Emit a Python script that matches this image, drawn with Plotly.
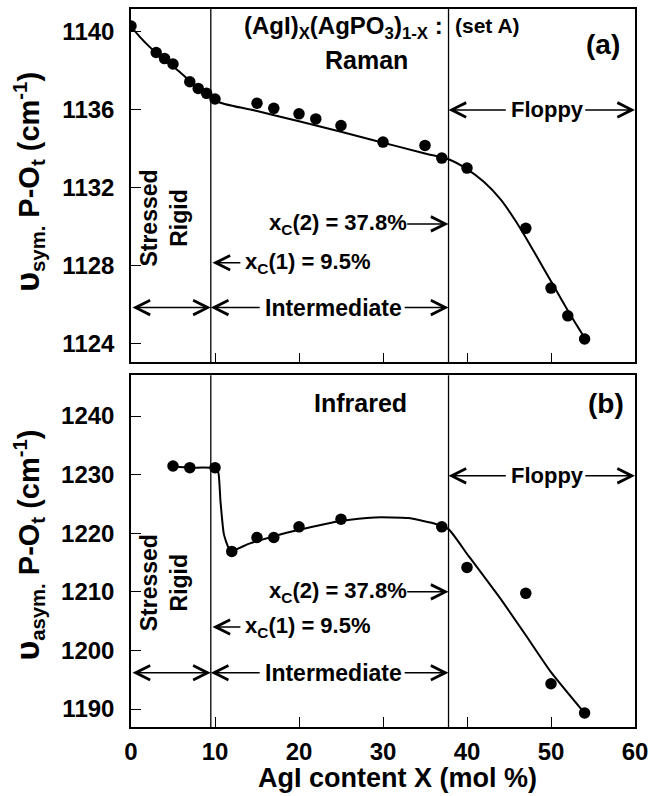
import plotly.graph_objects as go

# ---------------- data ----------------
# (a) Raman, symmetric P-Ot stretch
x_raman = [0, 3, 4, 5, 7, 8, 9, 10, 15, 17, 20, 22, 25, 30, 35, 37, 40, 47, 50, 52, 54]
y_raman = [1140.28, 1138.92, 1138.61, 1138.33, 1137.42, 1137.08, 1136.83, 1136.54,
           1136.32, 1136.06, 1135.78, 1135.52, 1135.18, 1134.33, 1134.16, 1133.51,
           1133.00, 1129.91, 1126.85, 1125.43, 1124.24]
fit_raman_x = [0, 1, 2, 3, 4, 5, 6, 7, 8, 9, 10, 15, 20, 25, 30, 35, 37.8,
               40, 42, 44, 46, 48, 50, 52, 54]
fit_raman_y = [1140.25, 1139.75, 1139.3, 1138.9, 1138.55, 1138.2, 1137.85, 1137.45,
               1137.1, 1136.8, 1136.45, 1135.92, 1135.4, 1134.86, 1134.3, 1133.75,
               1133.45, 1132.95, 1132.3, 1131.4, 1130.15, 1128.7, 1127.2, 1125.7, 1124.3]

# (b) Infrared, asymmetric P-Ot stretch
x_ir = [5, 7, 10, 12, 15, 17, 20, 25, 37, 40, 47, 50, 54]
y_ir = [1231.49, 1231.2, 1231.2, 1216.9, 1219.28, 1219.28, 1221.1, 1222.41,
        1221.1, 1214.17, 1209.75, 1194.32, 1189.32]
fit_ir_x = [5, 7, 10, 10.4, 10.65, 11.05, 11.6, 12.2, 14, 17, 20, 25, 29, 33, 36,
            37.8, 40, 44, 47, 50, 54]
fit_ir_y = [1231.4, 1231.2, 1231.1, 1230.3, 1225.5, 1219.9, 1217.6, 1217.1, 1218.2,
            1219.5, 1220.6, 1222.1, 1222.7, 1222.6, 1221.7, 1220.7, 1216.5, 1208.8,
            1202.6, 1196.3, 1189.3]

x_ticks = [0, 10, 20, 30, 40, 50, 60]
y_ticks_a = [1124, 1128, 1132, 1136, 1140]
y_ticks_b = [1190, 1200, 1210, 1220, 1230, 1240]
xc1, xc2 = 9.5, 37.8

FONT = "Liberation Sans, Arial, sans-serif"

fig = go.Figure()

for xs, ys, fx, fy, xa, ya, sm in [(x_raman, y_raman, fit_raman_x, fit_raman_y, "x", "y", 1.0),
                                   (x_ir, y_ir, fit_ir_x, fit_ir_y, "x2", "y2", 0.5)]:
    fig.add_trace(go.Scatter(x=fx, y=fy, mode="lines", xaxis=xa, yaxis=ya,
                             line=dict(color="black", width=2, shape="spline", smoothing=sm),
                             showlegend=False, hoverinfo="skip"))
    fig.add_trace(go.Scatter(x=xs, y=ys, mode="markers", xaxis=xa, yaxis=ya,
                             marker=dict(color="black", size=11.5), showlegend=False))

axis_common = dict(showline=True, linecolor="black", linewidth=1.5, mirror=True,
                   ticks="inside", ticklen=10, tickwidth=1.3, tickcolor="black",
                   showgrid=False, zeroline=False,
                   tickfont=dict(family=FONT, size=24, color="black", weight="bold"))

fig.update_layout(
    width=663, height=796,
    margin=dict(l=131, r=28, t=7, b=69),
    plot_bgcolor="white", paper_bgcolor="white",
    xaxis=dict(axis_common, domain=[0, 1], anchor="y", range=[0, 60],
               tickvals=x_ticks, showticklabels=False),
    yaxis=dict(axis_common, domain=[0.508, 1], anchor="x", range=[1123.05, 1141.15],
               tickvals=y_ticks_a, ticklabelstandoff=10),
    xaxis2=dict(axis_common, domain=[0, 1], anchor="y2", range=[0, 60],
                tickvals=x_ticks, ticklabelstandoff=2),
    yaxis2=dict(axis_common, domain=[0, 0.49], anchor="x2", range=[1186.94, 1246.98],
                tickvals=y_ticks_b, ticklabelstandoff=10),
)

# vertical threshold lines
for xr, yr in [("x", "y domain"), ("x2", "y2 domain")]:
    for xv in (xc1, xc2):
        fig.add_shape(type="line", xref=xr, yref=yr, x0=xv, x1=xv, y0=0, y1=1,
                      line=dict(color="black", width=1.3))

annotations = []


def text(x, y, s, xr, yr, size=22, xanchor="center", angle=0):
    annotations.append(dict(x=x, y=y, xref=xr, yref=yr, text=s, showarrow=False,
                            xanchor=xanchor, yanchor="middle", textangle=angle,
                            font=dict(family=FONT, size=size, color="black",
                                      weight="bold")))


def arrow(xh, yh, xt, yt, xr, yr, both=False):
    annotations.append(dict(x=xh, y=yh, ax=xt, ay=yt, xref=xr, yref=yr,
                            axref=xr, ayref=yr, text="", showarrow=True,
                            arrowhead=5, startarrowhead=5, arrowsize=1.9,
                            startarrowsize=1.9, arrowwidth=1.5, arrowcolor="black",
                            arrowside="end+start" if both else "end"))


# panel (a)
text(37.4, 1140.2, "(AgI)<sub>X</sub>(AgPO<sub>3</sub>)<sub>1-X</sub> :", "x", "y",
     size=24, xanchor="right")
text(38.3, 1140.3, "(set A)", "x", "y", size=21, xanchor="left")
text(28.0, 1138.55, "Raman", "x", "y", size=25)
text(56.2, 1139.35, "(a)", "x", "y", size=28)

# panel (b)
text(27.3, 1242.2, "Infrared", "x2", "y2", size=25)
text(56.5, 1242.2, "(b)", "x2", "y2", size=28)

for xr, yr, yf, yx2, yx1, yint, ysr in [("x", "y", 1135.98, 1130.14, 1128.15, 1125.85, 1130.45),
                                        ("x2", "y2", 1229.8, 1210.0, 1204.0, 1196.2, 1211.6)]:
    text(49.6, yf, "Floppy", xr, yr, size=22)
    arrow(xc2, yf, 44.8, yf, xr, yr)
    arrow(60, yf, 53.9, yf, xr, yr)
    text(24.6, yx2, "x<sub>C</sub>(2) = 37.8%", xr, yr, size=22)
    arrow(xc2, yx2, 32.7, yx2, xr, yr)
    text(21.0, yx1, "x<sub>C</sub>(1) = 9.5%", xr, yr, size=22)
    arrow(9.7, yx1, 13.2, yx1, xr, yr)
    text(24.05, yint, "Intermediate", xr, yr, size=23)
    arrow(xc1, yint, 15.5, yint, xr, yr)
    arrow(xc2, yint, 32.4, yint, xr, yr)
    arrow(xc1, yint, 0, yint, xr, yr, both=True)
    text(3.9, ysr, "Stressed<br>Rigid", xr, yr, size=23, angle=-90)

# y-axis titles
ups = '<span style="font-size:34px">\u03c5</span>'
annotations.append(dict(x=0, y=1132.3, xref="paper", yref="y", xshift=-102,
                        text=ups + "<sub>sym.</sub> P-O<sub>t</sub> (cm<sup>-1</sup>)",
                        showarrow=False, textangle=-90, xanchor="center", yanchor="middle",
                        font=dict(family=FONT, size=29, color="black", weight="bold")))
annotations.append(dict(x=0, y=1217.9, xref="paper", yref="y2", xshift=-102,
                        text=ups + "<sub>asym.</sub> P-O<sub>t</sub> (cm<sup>-1</sup>)",
                        showarrow=False, textangle=-90, xanchor="center", yanchor="middle",
                        font=dict(family=FONT, size=29, color="black", weight="bold")))
# x-axis title
annotations.append(dict(x=0.5, y=0, xref="paper", yref="paper", xshift=14, yshift=-51,
                        text="AgI content X (mol %)", showarrow=False,
                        xanchor="center", yanchor="middle",
                        font=dict(family=FONT, size=27, color="black", weight="bold")))

fig.update_layout(annotations=annotations)

fig.write_html("out.html")
